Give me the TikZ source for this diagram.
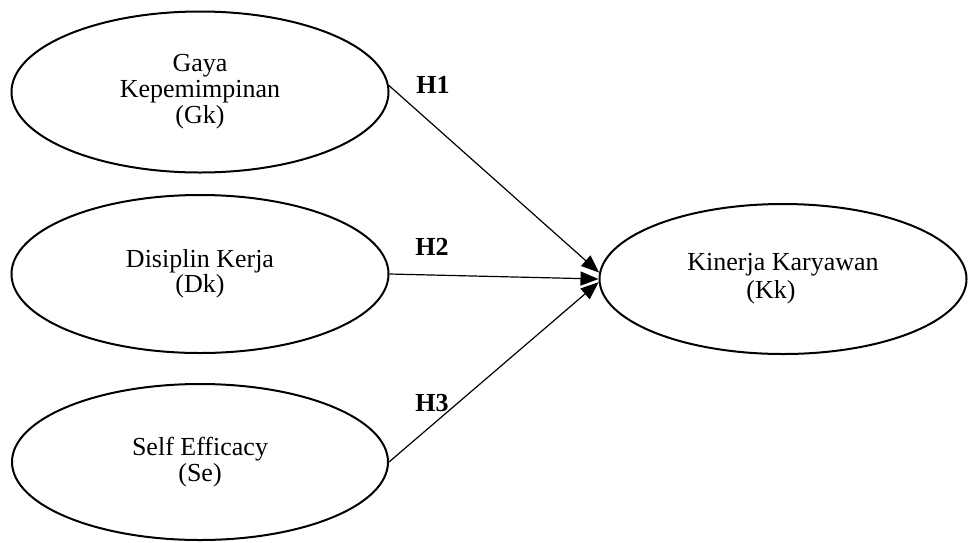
\documentclass[tikz,border=0pt]{standalone}
\usepackage{fontspec}
\setmainfont{Liberation Serif}
\usetikzlibrary{shapes.geometric,arrows.meta}
\begin{document}
\begin{tikzpicture}[x=1pt,y=-1pt,
  var/.style={ellipse,draw,line width=2pt,inner sep=0pt,align=center,
    font=\fontsize{26}{26}\selectfont},
  hyp/.style={line width=1.2pt,-{Triangle[length=18pt,width=14pt]}},
  hlab/.style={font=\fontsize{26}{26}\selectfont\bfseries,inner sep=0pt}]
\useasboundingbox (0,0) rectangle (968,542);
\node[var,minimum width=377pt,minimum height=161pt] (gk) at (200,92) {Gaya\\Kepemimpinan\\(Gk)};
\node[var,minimum width=377pt,minimum height=158pt,
  font=\fontsize{26}{23}\selectfont] (dk) at (200,274) {Disiplin Kerja\\(Dk)};
\node[var,minimum width=376pt,minimum height=156pt] (se) at (200,462) {Self Efficacy\\(Se)};
\node[var,minimum width=367pt,minimum height=150pt,
  font=\fontsize{26}{28}\selectfont] (kk) at (783,279) {\raisebox{6pt}{Kinerja Karyawan}\\\raisebox{6pt}{(Kk)}\hspace*{24pt}};
\node[hlab] (h1) at (433,85) {H1};
\node[hlab] (h2) at (432,247) {H2};
\node[hlab] (h3) at (432,403) {H3};
\draw[hyp] (gk.2) -- (kk.178.5);
\draw[hyp] (dk.east) -- (kk.west);
\draw[hyp] (se.east) -- (kk.181.5);
\end{tikzpicture}
\end{document}
